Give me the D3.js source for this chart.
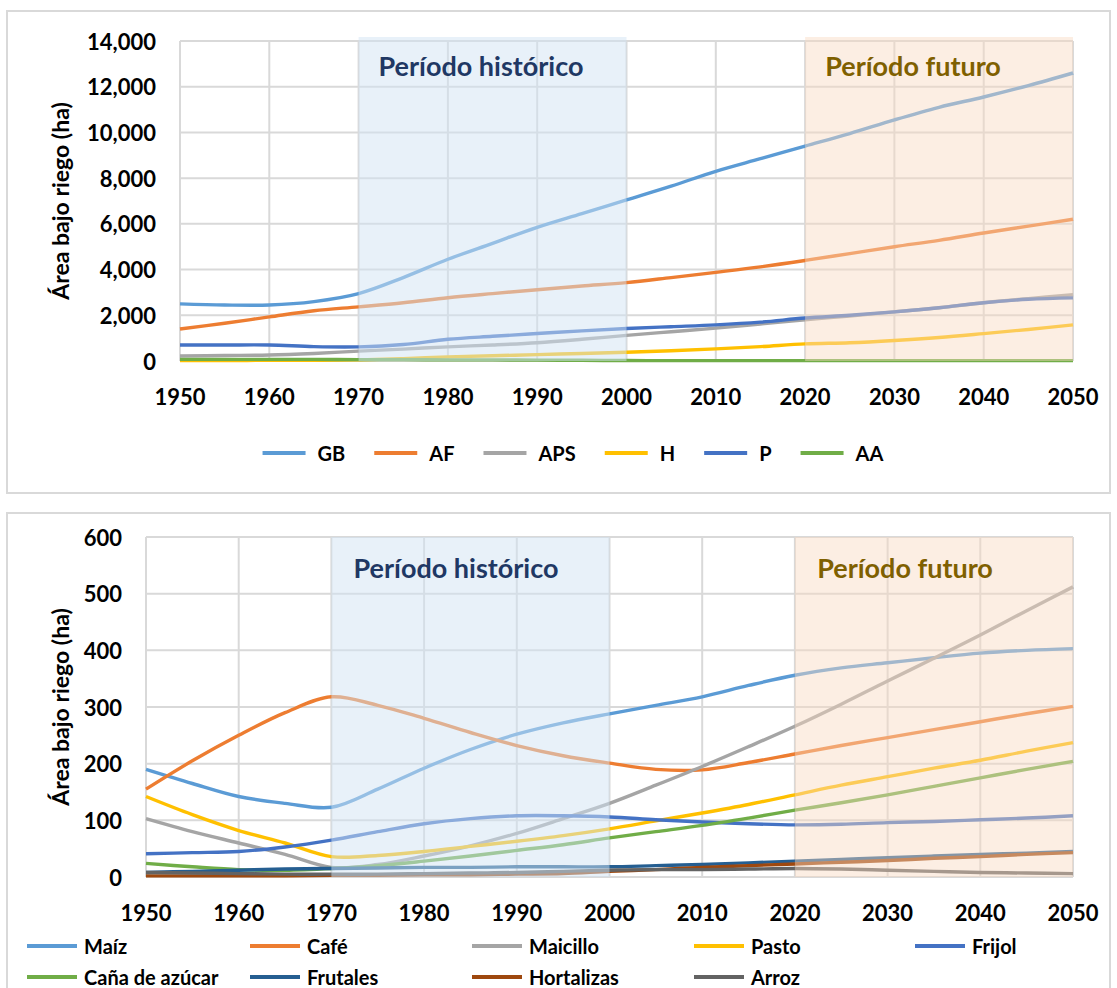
<!DOCTYPE html>
<html lang="es">
<head>
<meta charset="UTF-8">
<title>Área bajo riego</title>
<script src="https://d3js.org/d3.v7.min.js"></script>
<style>
  body { margin: 0; background: #fff; font-family: Lato, "Open Sans", sans-serif; }
  svg { display: block; }
  text { font-weight: bold; }
</style>
</head>
<body>
<svg id="chart" width="1117" height="988"></svg>
<script>
// categories (every 5 years)
const years = [1950, 1955, 1960, 1965, 1970, 1975, 1980, 1985, 1990, 1995, 2000,
               2005, 2010, 2015, 2020, 2025, 2030, 2035, 2040, 2045, 2050];
const yearTicks = [1950, 1960, 1970, 1980, 1990, 2000, 2010, 2020, 2030, 2040, 2050];

// top chart: area by group
const topNames = ["GB", "AF", "APS", "H", "P", "AA"];
const gb  = [2500, 2450, 2450, 2600, 2950, 3650, 4450, 5150, 5850, 6450, 7050, 7650, 8300, 8850, 9400, 9950, 10550, 11100, 11550, 12050, 12600];
const af  = [1400, 1650, 1930, 2200, 2370, 2550, 2770, 2950, 3120, 3280, 3430, 3650, 3880, 4120, 4400, 4700, 5000, 5280, 5600, 5900, 6200];
const aps = [220, 240, 260, 330, 430, 520, 620, 700, 800, 950, 1120, 1280, 1440, 1620, 1800, 1970, 2150, 2330, 2550, 2730, 2900];
const h   = [20, 20, 30, 30, 50, 100, 180, 230, 280, 330, 380, 450, 530, 630, 750, 800, 900, 1030, 1200, 1380, 1580];
const p   = [700, 700, 700, 630, 620, 720, 950, 1080, 1200, 1320, 1420, 1500, 1580, 1700, 1880, 2000, 2150, 2330, 2550, 2700, 2760];
const aa  = [70, 70, 70, 70, 60, 60, 50, 50, 40, 30, 20, 15, 15, 15, 15, 15, 15, 15, 15, 15, 15];
const topTicks = [0, 2000, 4000, 6000, 8000, 10000, 12000, 14000];

// bottom chart: area by crop
const cropNames = ["Maíz", "Café", "Maicillo", "Pasto", "Frijol", "Caña de azúcar", "Frutales", "Hortalizas", "Arroz"];
const maiz       = [190, 165, 142, 130, 123, 155, 192, 225, 252, 272, 288, 303, 318, 338, 356, 369, 378, 387, 395, 400, 403];
const cafe       = [155, 205, 250, 290, 318, 303, 280, 255, 232, 214, 201, 190, 189, 202, 217, 232, 246, 260, 274, 288, 301];
const maicillo   = [103, 80, 60, 40, 17, 22, 37, 55, 77, 103, 130, 162, 195, 230, 266, 305, 346, 386, 427, 470, 512];
const pasto      = [142, 110, 82, 60, 36, 38, 45, 54, 63, 73, 85, 99, 113, 128, 145, 162, 177, 192, 206, 222, 237];
const frijol     = [41, 43, 45, 53, 65, 80, 94, 103, 108, 108, 106, 101, 97, 94, 92, 93, 96, 98, 101, 104, 108];
const cana       = [24, 18, 13, 12, 15, 20, 28, 37, 47, 57, 69, 80, 91, 104, 118, 131, 145, 160, 175, 190, 204];
const frutales   = [8, 10, 12, 14, 15, 16, 17, 17, 18, 18, 18, 20, 22, 25, 28, 31, 34, 37, 40, 42, 45];
const hortalizas = [2, 2, 2, 2, 3, 3, 4, 4, 5, 6, 10, 13, 17, 20, 23, 26, 29, 33, 36, 40, 43];
const arroz      = [8, 7, 6, 5, 5, 5, 6, 7, 8, 10, 12, 13, 13, 14, 15, 14, 12, 10, 8, 7, 6];
const bottomTicks = [0, 100, 200, 300, 400, 500, 600];

const periods = [
  { label: "Período histórico", from: 1970, to: 2000, fill: "#d2e4f4", op: 0.5, color: "#1f3864" },
  { label: "Período futuro", from: 2020, to: 2050, fill: "#f9d9c2", op: 0.45, color: "#7f6000" }
];

const svg = d3.select("#chart");

function drawChart(cfg) {
  const g = svg.append("g");
  // frame
  g.append("rect")
    .attr("x", cfg.box[0]).attr("y", cfg.box[1])
    .attr("width", cfg.box[2]).attr("height", cfg.box[3])
    .attr("fill", "#fff").attr("stroke", "#d9d9d9").attr("stroke-width", 2);

  const x = d3.scaleLinear().domain([1950, 2050]).range([cfg.left, cfg.right]);
  const y = d3.scaleLinear().domain([0, d3.max(cfg.ticks)]).range([cfg.bottom, cfg.top]);

  // grid
  g.append("g").selectAll("line").data(cfg.ticks).join("line")
    .attr("x1", cfg.left).attr("x2", cfg.right)
    .attr("y1", d => y(d)).attr("y2", d => y(d))
    .attr("stroke", "#d9d9d9").attr("stroke-width", 2);
  g.append("g").selectAll("line").data(yearTicks).join("line")
    .attr("x1", d => x(d)).attr("x2", d => x(d))
    .attr("y1", cfg.top).attr("y2", cfg.bottom)
    .attr("stroke", "#d9d9d9").attr("stroke-width", 2);

  // tick labels
  g.append("g").selectAll("text").data(cfg.ticks).join("text")
    .attr("x", cfg.left - 24).attr("y", d => y(d))
    .attr("text-anchor", "end").attr("dominant-baseline", "central")
    .attr("font-size", 22).attr("fill", "#000")
    .text(d3.format(","));
  g.append("g").selectAll("text").data(yearTicks).join("text")
    .attr("x", d => x(d)).attr("y", cfg.bottom + 35)
    .attr("text-anchor", "middle").attr("dominant-baseline", "central")
    .attr("font-size", 22).attr("fill", "#000")
    .text(d => d);

  // axis title
  g.append("text")
    .attr("transform", `translate(60,${(cfg.top + cfg.bottom) / 2}) rotate(-90)`)
    .attr("text-anchor", "middle").attr("dominant-baseline", "central")
    .attr("font-size", 23).attr("fill", "#000")
    .text("Área bajo riego (ha)");

  // series
  const line = d3.line()
    .x((d, i) => x(years[i]))
    .y(d => y(d))
    .curve(d3.curveCatmullRom.alpha(0.5));
  g.append("g").selectAll("path").data(cfg.series).join("path")
    .attr("d", d => line(d.values))
    .attr("fill", "none").attr("stroke", d => d.color)
    .attr("stroke-width", 3.4).attr("stroke-linejoin", "round");

  // period overlays
  periods.forEach(pd => {
    g.append("rect")
      .attr("x", x(pd.from)).attr("y", cfg.top - cfg.shadeUp)
      .attr("width", x(pd.to) - x(pd.from)).attr("height", cfg.bottom - cfg.top + cfg.shadeUp)
      .attr("fill", pd.fill).attr("opacity", pd.op);
  });
  g.append("g").selectAll("text").data(periods).join("text")
    .attr("x", (d, i) => cfg.labelX[i]).attr("y", cfg.labelY)
    .attr("text-anchor", "middle").attr("dominant-baseline", "central")
    .attr("font-size", 27).attr("fill", d => d.color)
    .text(d => d.label);

  return { x, y };
}

const topColors = ["#5b9bd5", "#ed7d31", "#a5a5a5", "#ffc000", "#4472c4", "#70ad47"];
const topSeries = [gb, af, aps, h, p, aa].map((v, i) => ({ name: topNames[i], values: v, color: topColors[i] }));
drawChart({
  box: [7, 11, 1103, 482],
  left: 180, right: 1073, top: 41, bottom: 361, shadeUp: 4,
  ticks: topTicks, series: topSeries,
  labelX: [481, 913], labelY: 65
});

const cropColors = ["#5b9bd5", "#ed7d31", "#a5a5a5", "#ffc000", "#4472c4", "#70ad47", "#255e91", "#9e480e", "#636363"];
const cropSeries = [maiz, cafe, maicillo, pasto, frijol, cana, frutales, hortalizas, arroz]
  .map((v, i) => ({ name: cropNames[i], values: v, color: cropColors[i] }));
drawChart({
  box: [7, 513, 1103, 490],
  left: 146, right: 1073, top: 537, bottom: 877, shadeUp: 0,
  ticks: bottomTicks, series: cropSeries,
  labelX: [456, 905], labelY: 567
});

// top legend: one row, centred
const lg = svg.append("g");
const items = lg.selectAll("g").data(topSeries).join("g");
items.append("line").attr("x1", 0).attr("x2", 43).attr("y1", 0).attr("y2", 0)
  .attr("stroke", d => d.color).attr("stroke-width", 4);
items.append("text").attr("x", 55).attr("y", 0).attr("dominant-baseline", "central")
  .attr("font-size", 20).attr("fill", "#000").text(d => d.name);
let widths = [];
items.each(function () { widths.push(this.getBBox().width); });
const gap = 29;
const total = d3.sum(widths) + gap * (widths.length - 1);
let cx = 573 - total / 2;
items.attr("transform", (d, i) => {
  const t = `translate(${cx},453)`;
  cx += widths[i] + gap;
  return t;
});

// bottom legend: two rows, fixed columns
const colX = [27, 250, 472, 694, 915];
const bl = svg.append("g").selectAll("g").data(cropSeries).join("g")
  .attr("transform", (d, i) => `translate(${colX[i % 5]},${i < 5 ? 946 : 977})`);
bl.append("line").attr("x1", 0).attr("x2", 50).attr("y1", 0).attr("y2", 0)
  .attr("stroke", d => d.color).attr("stroke-width", 4);
bl.append("text").attr("x", 57).attr("y", 0).attr("dominant-baseline", "central")
  .attr("font-size", 20).attr("fill", "#000").text(d => d.name);
</script>
</body>
</html>
